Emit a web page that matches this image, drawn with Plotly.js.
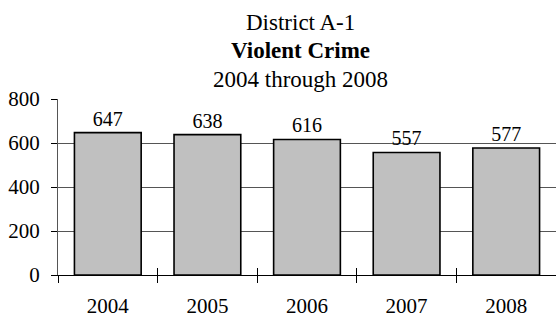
<!DOCTYPE html>
<html><head><meta charset="utf-8">
<script src="https://cdn.plot.ly/plotly-3.0.1.min.js"></script>
<style>html,body{margin:0;padding:0;background:#fff}</style>
</head><body>
<div id="chart" style="width:556px;height:318px"></div>
<script>
var years = ['2004', '2005', '2006', '2007', '2008'];
var crimes = [647, 638, 616, 557, 577];
var yTicks = [0, 200, 400, 600, 800];
var titleLines = ['District A-1', '<b>Violent Crime</b>', '2004 through 2008'];

var font = 'Liberation Serif, Times New Roman, serif';
var trace = {
  type: 'bar', x: years, y: crimes,
  text: crimes.map(String), textposition: 'outside', cliponaxis: false,
  textfont: {family: font, size: 20, color: '#000'},
  marker: {color: '#C0C0C0', line: {color: '#000', width: 1.6}},
  hoverinfo: 'none'
};
// invisible copy used only to draw the inner half of the crossing x ticks
var tickTrace = {
  type: 'bar', x: years, y: crimes, xaxis: 'x2', yaxis: 'y',
  marker: {color: 'rgba(0,0,0,0)'}, hoverinfo: 'none', showlegend: false
};
var titleShifts = [77, 49, 20];
var annots = titleLines.map(function(t, i){
  return {text: t, xref: 'paper', yref: 'paper', x: 0.486, y: 1, yshift: titleShifts[i],
    xanchor: 'center', yanchor: 'middle', showarrow: false,
    font: {family: font, size: 23, color: '#000'}};
});
var layout = {
  width: 556, height: 318,
  margin: {l: 58, r: 0, t: 99, b: 43},
  paper_bgcolor: '#fff', plot_bgcolor: '#fff',
  showlegend: false, bargap: 0.33,
  font: {family: font, size: 21, color: '#000'},
  xaxis: {type: 'category', tickson: 'boundaries', ticks: 'outside', ticklen: 7,
    tickcolor: '#000', showline: true, linecolor: '#000', linewidth: 1,
    showgrid: false, ticklabelstandoff: 12, tickfont: {family: font, size: 21}},
  xaxis2: {type: 'category', overlaying: 'x', matches: 'x', anchor: 'y', side: 'bottom',
    tickson: 'boundaries', ticks: 'inside', ticklen: 7, tickcolor: '#000',
    showticklabels: false, showgrid: false, showline: false},
  yaxis: {range: [0, 800], tickvals: yTicks, ticks: 'outside', ticklen: 6,
    tickcolor: '#000', showline: true, linecolor: '#555', linewidth: 1,
    showgrid: true, gridcolor: '#555', gridwidth: 1, zeroline: false,
    ticklabelstandoff: 7, tickfont: {family: font, size: 21}},
  annotations: annots
};
Plotly.newPlot('chart', [trace, tickTrace], layout, {staticPlot: true, displayModeBar: false});
</script>
</body></html>
